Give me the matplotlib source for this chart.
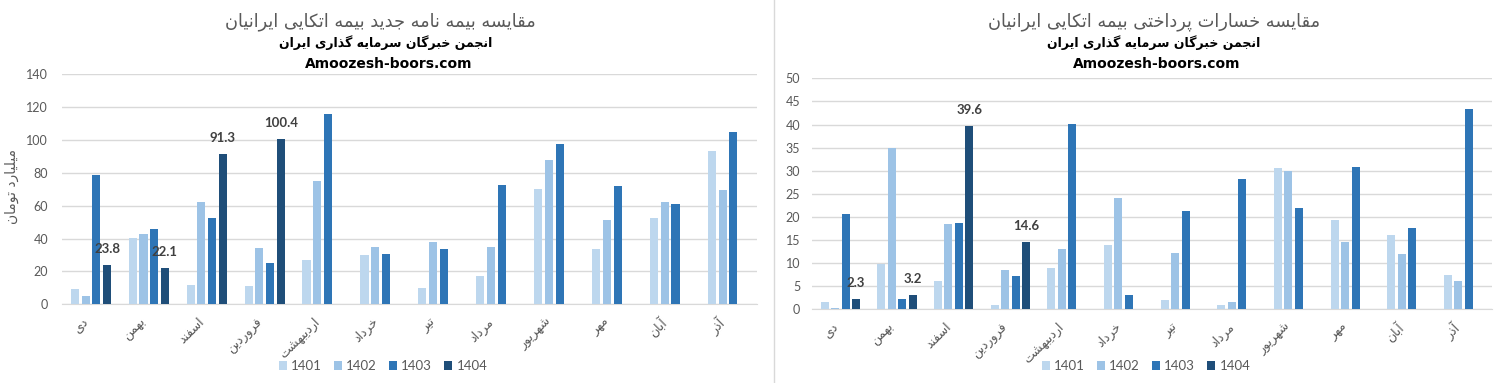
import matplotlib
matplotlib.use("Agg")
import matplotlib.pyplot as plt
import numpy as np
from matplotlib.lines import Line2D
from matplotlib.patches import Patch

# ---- data ----
months = ['دی', 'بهمن', 'اسفند', 'فروردین', 'اردیبهشت', 'خرداد', 'تیر',
          'مرداد', 'شهریور', 'مهر', 'آبان', 'آذر']
years = ['1401', '1402', '1403', '1404']

# premiums (left chart)
prem_1401 = [9.3, 40.2, 11.8, 11.2, 27.0, 30.0, 9.9, 17.2, 70.2, 33.7, 52.5, 93.3]
prem_1402 = [5.3, 42.8, 62.3, 34.3, 75.1, 34.9, 37.9, 34.9, 87.8, 51.3, 62.3, 69.6]
prem_1403 = [78.7, 45.9, 52.5, 25.2, 115.8, 30.6, 33.7, 72.6, 97.6, 72.0, 61.1, 104.9]
prem_1404 = [23.8, 22.1, 91.3, 100.4]

# paid claims (right chart)
loss_1401 = [1.5, 9.9, 6.1, 0.9, 8.9, 13.9, 2.0, 0.9, 30.6, 19.3, 16.0, 7.4]
loss_1402 = [0.2, 35.0, 18.4, 8.5, 13.0, 24.1, 12.1, 1.5, 29.9, 14.5, 11.9, 6.1]
loss_1403 = [20.6, 2.2, 18.6, 7.2, 40.1, 3.0, 21.2, 28.2, 21.9, 30.8, 17.6, 43.4]
loss_1404 = [2.3, 3.2, 39.6, 14.6]

colors = ['#BDD7EE', '#9DC3E6', '#2E75B6', '#1F4E79']

# ---- simple persian shaping (matplotlib has no RTL shaping) ----
FORMS = {
    'ا': ('\uFE8D', '\uFE8E', None, None),
    'آ': ('\uFE81', '\uFE82', None, None),
    'ب': ('\uFE8F', '\uFE90', '\uFE91', '\uFE92'),
    'ت': ('\uFE95', '\uFE96', '\uFE97', '\uFE98'),
    'ج': ('\uFE9D', '\uFE9E', '\uFE9F', '\uFEA0'),
    'خ': ('\uFEA5', '\uFEA6', '\uFEA7', '\uFEA8'),
    'د': ('\uFEA9', '\uFEAA', None, None),
    'ذ': ('\uFEAB', '\uFEAC', None, None),
    'ر': ('\uFEAD', '\uFEAE', None, None),
    'ز': ('\uFEAF', '\uFEB0', None, None),
    'س': ('\uFEB1', '\uFEB2', '\uFEB3', '\uFEB4'),
    'ش': ('\uFEB5', '\uFEB6', '\uFEB7', '\uFEB8'),
    'ف': ('\uFED1', '\uFED2', '\uFED3', '\uFED4'),
    'ق': ('\uFED5', '\uFED6', '\uFED7', '\uFED8'),
    'ل': ('\uFEDD', '\uFEDE', '\uFEDF', '\uFEE0'),
    'م': ('\uFEE1', '\uFEE2', '\uFEE3', '\uFEE4'),
    'ن': ('\uFEE5', '\uFEE6', '\uFEE7', '\uFEE8'),
    'ه': ('\uFEE9', '\uFEEA', '\uFEEB', '\uFEEC'),
    'و': ('\uFEED', '\uFEEE', None, None),
    'پ': ('\uFB56', '\uFB57', '\uFB58', '\uFB59'),
    'ک': ('\uFB8E', '\uFB8F', '\uFB90', '\uFB91'),
    'گ': ('\uFB92', '\uFB93', '\uFB94', '\uFB95'),
    'ی': ('\uFBFC', '\uFBFD', '\uFBFE', '\uFBFF'),
}


def fa(text):
    out = []
    for i, ch in enumerate(text):
        if ch not in FORMS:
            out.append(ch)
            continue
        prev = text[i - 1] if i > 0 else None
        nxt = text[i + 1] if i < len(text) - 1 else None
        join_prev = prev in FORMS and FORMS[prev][2] is not None
        join_next = nxt in FORMS and FORMS[ch][2] is not None
        iso, fin, ini, med = FORMS[ch]
        if join_prev and join_next:
            out.append(med)
        elif join_prev:
            out.append(fin)
        elif join_next:
            out.append(ini)
        else:
            out.append(iso)
    return ''.join(reversed(out))


GRID = '#D9D9D9'
TXT = '#595959'

fig = plt.figure(figsize=(15.05, 3.83), dpi=100)
W, H = 1505, 383


def make_axes(x0, x1, ytop, ybot):
    return fig.add_axes([x0 / W, (H - ybot) / H, (x1 - x0) / W, (ybot - ytop) / H])


def draw(ax, series, ymax, ystep, tick_pad):
    x = np.arange(len(months))
    step, width = 0.185, 0.14
    for i, vals in enumerate(series):
        v = np.full(len(months), np.nan)
        v[:len(vals)] = vals
        ax.bar(x + (i - 1.5) * step, v, width, color=colors[i], zorder=3)
        if i == 3:
            for xi, val in zip(x[:len(vals)], vals):
                ax.annotate(f'{val:.1f}', (xi + (i - 1.5) * step, val),
                            xytext=(0, 11.5), textcoords='offset points',
                            ha='center', va='center', fontsize=9.5,
                            fontweight='bold', color='#404040', family='Lato')
    ax.set_xlim(-0.5, len(months) - 0.5)
    ax.set_ylim(0, ymax)
    ax.set_yticks(np.arange(0, ymax + 0.1, ystep))
    ax.yaxis.grid(True, color=GRID, lw=1)
    ax.set_axisbelow(True)
    for s in ['top', 'left', 'right']:
        ax.spines[s].set_visible(False)
    ax.spines['bottom'].set_color(GRID)
    ax.tick_params(axis='both', length=0)
    ax.tick_params(axis='y', pad=tick_pad, labelsize=9, labelcolor=TXT)
    for t in ax.get_yticklabels():
        t.set_family('Lato')
    ax.set_xticks(x)
    ax.set_xticklabels([fa(m) for m in months], rotation=45, ha='right',
                       fontsize=9, color=TXT, family='DejaVu Sans')
    ax.tick_params(axis='x', pad=8)


ax1 = make_axes(62, 757, 74.3, 304.3)
draw(ax1, [prem_1401, prem_1402, prem_1403, prem_1404], 140, 20, 10)

ax2 = make_axes(812, 1492, 78.3, 309.3)
draw(ax2, [loss_1401, loss_1402, loss_1403, loss_1404], 50, 5, 8.5)

# titles
for cx, title in [(380, 'مقایسه بیمه نامه جدید بیمه اتکایی ایرانیان'),
                  (1154, 'مقایسه خسارات پرداختی بیمه اتکایی ایرانیان')]:
    dx = 6 if cx < 700 else 0
    fig.text(cx / W, 1 - 21.5 / H, fa(title), ha='center', va='center',
             fontsize=12.8, color=TXT, family='DejaVu Sans')
    fig.text((cx + dx) / W, 1 - 42.7 / H, fa('انجمن خبرگان سرمایه گذاری ایران'),
             ha='center', va='center', fontsize=9, fontweight='bold',
             color='black', family='DejaVu Sans')
    fig.text((cx + dx + 3) / W, 1 - 64 / H, 'Amoozesh-boors.com', ha='center',
             va='center', fontsize=10, fontweight='bold', color='black',
             family='DejaVu Sans')

fig.text(12 / W, 1 - 187 / H, fa('میلیارد تومان'), rotation=90, ha='center',
         va='center', fontsize=10, color=TXT, family='DejaVu Sans')

# legends
handles = [Patch(facecolor=c, edgecolor='none') for c in colors]
for cx in [383, 1146]:
    fig.legend(handles, years, loc='center', bbox_to_anchor=(cx / W, 1 - 366 / H),
               ncol=4, frameon=False, handlelength=0.6, handleheight=0.6,
               handletextpad=0.3, columnspacing=0.95,
               prop={'family': 'Lato', 'size': 9.5}, labelcolor=TXT)

# divider between the two charts
fig.add_artist(Line2D([774 / W, 774 / W], [0, 1], color=GRID, lw=1))

fig.savefig('out.png', dpi=100)
